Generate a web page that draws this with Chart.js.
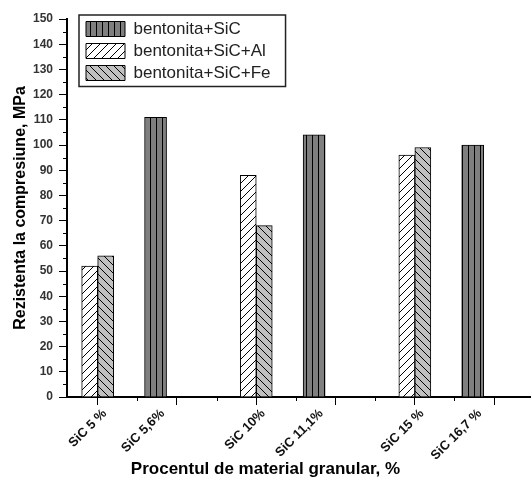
<!DOCTYPE html>
<html>
<head>
<meta charset="utf-8">
<script src="https://cdn.jsdelivr.net/npm/chart.js@4.4.1/dist/chart.umd.min.js"></script>
<style>
  html, body { margin: 0; padding: 0; background: #fff; }
  canvas { display: block; }
</style>
</head>
<body>
<canvas id="c" width="531" height="478"></canvas>
<script>
// Compressive strength by granular material content
const categories = ['SiC 5 %', 'SiC 5,6%', 'SiC 10%', 'SiC 11,1%', 'SiC 15 %', 'SiC 16,7 %'];
const seriesNames = ['bentonita+SiC', 'bentonita+SiC+Al', 'bentonita+SiC+Fe'];
const sicValues = [null, 111, null, 104, null, 100];
const alValues  = [52, null, 88, null, 96, null];
const feValues  = [56, null, 68, null, 99, null];
const yRange = { min: 0, max: 150, step: 10 };
const yTitle = 'Rezistenta la compresiune, MPa';
const xTitle = 'Procentul de material granular, %';

// Horizontal placement: each Al/Fe pair sits on a major tick,
// the single SiC bar stands a little to its right.
const PAIR_STEP = 4, SINGLE_SHIFT = 1.46, FIRST_PAIR = 1;
const slotOf = i => FIRST_PAIR + PAIR_STEP * Math.floor(i / 2) + (i % 2 ? SINGLE_SHIFT : 0);
const slots = categories.map((_, i) => slotOf(i));
const toPoints = vals => vals.map((v, i) => v == null ? null : { x: slots[i], y: v }).filter(Boolean);
const X_MIN = 0.226, X_MAX = 11.93;

const FONT = "'Liberation Sans', Arial, Helvetica, sans-serif";
Chart.defaults.font.family = FONT;
Chart.defaults.color = '#000';

const mainCtx = document.getElementById('c').getContext('2d');
function makePattern(bg, w, h, paint) {
  const cv = document.createElement('canvas');
  cv.width = w; cv.height = h;
  const g = cv.getContext('2d');
  g.fillStyle = bg; g.fillRect(0, 0, w, h);
  g.strokeStyle = '#000'; g.lineWidth = 1;
  g.beginPath(); paint(g, w, h); g.stroke();
  return mainCtx.createPattern(cv, 'repeat');
}
const vertStripes = makePattern('#7f7f7f', 6, 6, (g, w, h) => { g.moveTo(0.5, 0); g.lineTo(0.5, h); });
const forwardHatch = makePattern('#ffffff', 8, 8, (g, w, h) => {
  g.moveTo(-1, h + 1); g.lineTo(w + 1, -1);
  g.moveTo(-1, 1); g.lineTo(1, -1);
  g.moveTo(w - 1, h + 1); g.lineTo(w + 1, h - 1);
});
const backHatch = makePattern('#c0c0c0', 8, 8, (g, w, h) => {
  g.moveTo(-1, -1); g.lineTo(w + 1, h + 1);
  g.moveTo(w - 1, -1); g.lineTo(w + 1, 1);
  g.moveTo(-1, h - 1); g.lineTo(1, h + 1);
});

// short ticks halfway between the labelled ones
const minorTicks = {
  id: 'minorTicks',
  afterDraw(chart) {
    const { ctx } = chart;
    const y = chart.scales.y, x = chart.scales.x;
    ctx.save();
    ctx.strokeStyle = '#000';
    ctx.lineWidth = 1;
    ctx.beginPath();
    for (let v = yRange.min + yRange.step / 2; v < yRange.max; v += yRange.step) {
      const py = Math.round(y.getPixelForValue(v)) + 0.5;
      ctx.moveTo(y.right - 4, py); ctx.lineTo(y.right, py);
    }
    const xt = x.ticks.map(t => t.value);
    for (let k = 0; k + 1 < xt.length; k++) {
      const px = Math.round(x.getPixelForValue((xt[k] + xt[k + 1]) / 2)) + 0.5;
      ctx.moveTo(px, x.top); ctx.lineTo(px, x.top + 4);
    }
    ctx.stroke();
    ctx.restore();
  }
};

// legend placed in the upper-left corner of the plot, with a frame
const legendFrame = {
  id: 'legendFrame',
  afterLayout(chart) {
    const lg = chart.legend, a = chart.chartArea;
    lg.left = a.left + 14;
    lg.top = a.top - 3.5;
    lg.right = lg.left + lg.width;
    lg.bottom = lg.top + 200;
  },
  afterDraw(chart) {
    const lg = chart.legend, hb = lg.legendHitBoxes;
    if (!hb || !hb.length) return;
    const { ctx } = chart;
    const x0 = lg.left - 2, y0 = lg.top - 0.5;
    const x1 = Math.max(...hb.map(h => h.left + h.width)) + 15;
    const last = hb[hb.length - 1];
    const y1 = last.top + last.height + 5;
    ctx.save();
    ctx.strokeStyle = '#222';
    ctx.lineWidth = 1.5;
    ctx.strokeRect(x0, y0, x1 - x0, y1 - y0);
    ctx.restore();
  }
};

new Chart(mainCtx, {
  type: 'bar',
  data: {
    datasets: [
      { label: seriesNames[0], data: toPoints(sicValues), xAxisID: 'xl', grouped: false,
        backgroundColor: vertStripes, borderColor: '#000', borderWidth: 1, barThickness: 22 },
      { label: seriesNames[1], data: toPoints(alValues), xAxisID: 'x',
        backgroundColor: forwardHatch, borderColor: '#000', borderWidth: 1, barThickness: 16 },
      { label: seriesNames[2], data: toPoints(feValues), xAxisID: 'x',
        backgroundColor: backHatch, borderColor: '#000', borderWidth: 1, barThickness: 16 }
    ]
  },
  options: {
    responsive: false,
    animation: false,
    layout: { padding: { top: 19, left: 0, right: 0, bottom: 0 } },
    scales: {
      x: {
        type: 'linear', position: 'bottom', weight: 0, offset: false,
        min: X_MIN, max: X_MAX,
        afterBuildTicks: s => { s.ticks = [1, 3, 5, 7, 9, 11].map(v => ({ value: v })); },
        ticks: { display: false },
        grid: { display: true, offset: false, drawOnChartArea: false, drawTicks: true, tickLength: 8, color: '#000', tickWidth: 1 },
        border: { display: true, color: '#000', width: 2 }
      },
      xl: {
        type: 'linear', position: 'bottom', weight: 1, offset: false,
        min: X_MIN, max: X_MAX,
        afterBuildTicks: s => { s.ticks = slots.map(v => ({ value: v })); },
        afterFit: s => { s.height = 56; },
        ticks: {
          autoSkip: false, minRotation: 45, maxRotation: 45, padding: 1, labelOffset: 7,
          color: '#111', font: { size: 13, weight: 'bold' },
          callback: (v, i) => categories[i]
        },
        grid: { display: false, offset: false, drawTicks: false, drawOnChartArea: false },
        border: { display: false }
      },
      y: {
        position: 'left',
        min: yRange.min, max: yRange.max,
        afterFit: s => { s.width = 67; },
        ticks: { stepSize: yRange.step, padding: 6, color: '#333', font: { size: 12, weight: 'bold' } },
        grid: { display: true, drawOnChartArea: false, drawTicks: true, tickLength: 8, color: '#000', tickWidth: 1 },
        border: { display: true, color: '#000', width: 2 },
        title: { display: true, text: yTitle, color: '#000', padding: { top: 11, bottom: 0 },
                 font: { size: 16, weight: 'bold' } }
      }
    },
    plugins: {
      legend: {
        display: true, position: 'chartArea', align: 'start',
        labels: { boxWidth: 39, boxHeight: 15, padding: 5, color: '#222', font: { size: 17 } }
      },
      title: {
        display: true, position: 'bottom', text: xTitle, color: '#000',
        padding: 0, font: { size: 17, weight: 'bold', lineHeight: 1 }
      },
      tooltip: { enabled: false }
    }
  },
  plugins: [minorTicks, legendFrame]
});
</script>
</body>
</html>
